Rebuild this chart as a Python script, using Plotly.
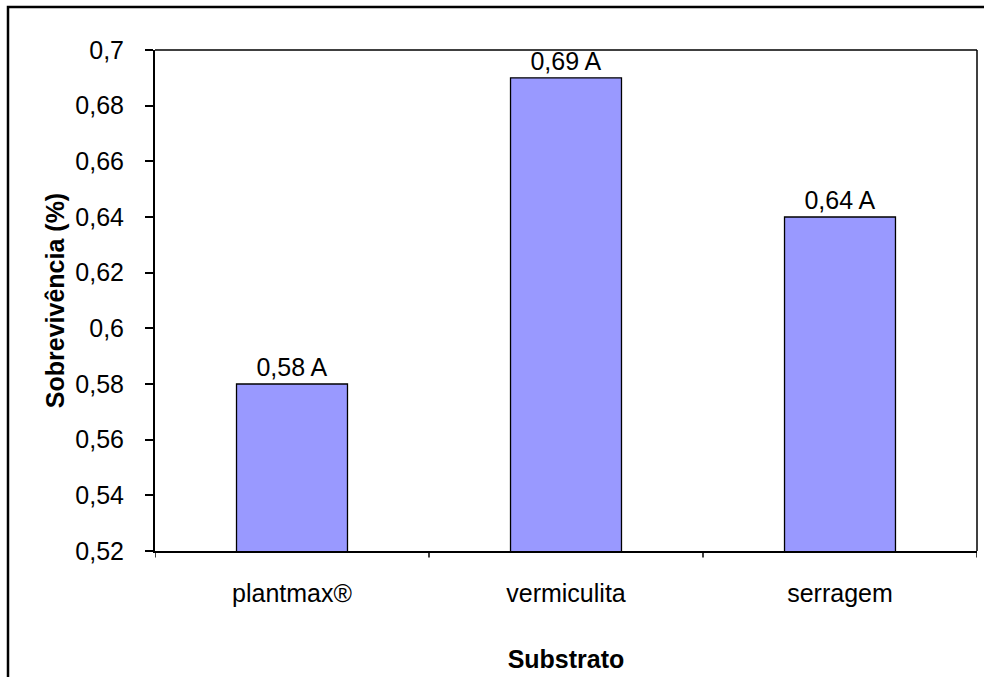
import plotly.graph_objects as go

# Survival by substrate
substratos = ["plantmax®", "vermiculita", "serragem"]
sobrevivencia = [0.58, 0.69, 0.64]
letras = ["A", "A", "A"]

y_ticks = [0.52, 0.54, 0.56, 0.58, 0.60, 0.62, 0.64, 0.66, 0.68, 0.70]
y_tick_labels = ["0,52", "0,54", "0,56", "0,58", "0,6", "0,62", "0,64", "0,66", "0,68", "0,7"]

FONT = "Liberation Sans, Arial, sans-serif"
FS = 25

labels = [f"{v:.2f}".replace(".", ",") + f" {l}" for v, l in zip(sobrevivencia, letras)]

fig = go.Figure(
    go.Bar(
        x=substratos,
        y=sobrevivencia,
        base=0,
        width=0.405,
        marker=dict(color="#9999FF", line=dict(color="black", width=1.3)),
        text=labels,
        textposition="outside",
        textfont=dict(family=FONT, size=FS, color="black"),
        cliponaxis=False,
    )
)

# category boundary positions for the x tick marks
bounds = [-0.5, 0.5, 1.5, 2.5]

fig.update_layout(
    width=984,
    height=677,
    margin=dict(l=155, r=7, t=50, b=126),
    paper_bgcolor="white",
    plot_bgcolor="white",
    showlegend=False,
    font=dict(family=FONT, size=FS, color="black"),
    uniformtext=dict(mode=False),
    xaxis=dict(
        range=[-0.5, 2.5],
        showline=True,
        linecolor="black",
        linewidth=2,
        ticks="",
        showgrid=False,
        ticklabelstandoff=19,
        tickfont=dict(family=FONT, size=FS),
        title=dict(text="<b>Substrato</b>", font=dict(family=FONT, size=FS), standoff=44),
    ),
    yaxis=dict(
        range=[0.52, 0.70],
        tickvals=y_ticks,
        ticktext=y_tick_labels,
        showline=True,
        linecolor="black",
        linewidth=2,
        ticks="outside",
        ticklen=8,
        tickwidth=1.5,
        tickcolor="black",
        ticklabelstandoff=16,
        showgrid=False,
        zeroline=False,
        tickfont=dict(family=FONT, size=FS),
        title=dict(text="<b>Sobrevivência (%)</b>", font=dict(family=FONT, size=FS), standoff=4),
    ),
)

# x tick marks at category boundaries
for b in bounds:
    fig.add_shape(type="line", xref="x", yref="paper", x0=b, x1=b, y0=0, y1=-0.013,
                  line=dict(color="black", width=1.5))

# plot area border (top and right)
fig.add_shape(type="line", xref="paper", yref="paper", x0=0, x1=1, y0=1, y1=1,
              line=dict(color="black", width=1.5))
fig.add_shape(type="line", xref="paper", yref="paper", x0=1, x1=1, y0=0, y1=1,
              line=dict(color="black", width=1.5))

# outer chart frame
fig.add_shape(type="rect", xref="paper", yref="paper",
              x0=-147 / 822, x1=1.05, y0=-0.3, y1=1 + 43 / 501,
              line=dict(color="black", width=2.5), layer="below")

fig.write_html("out.html")
